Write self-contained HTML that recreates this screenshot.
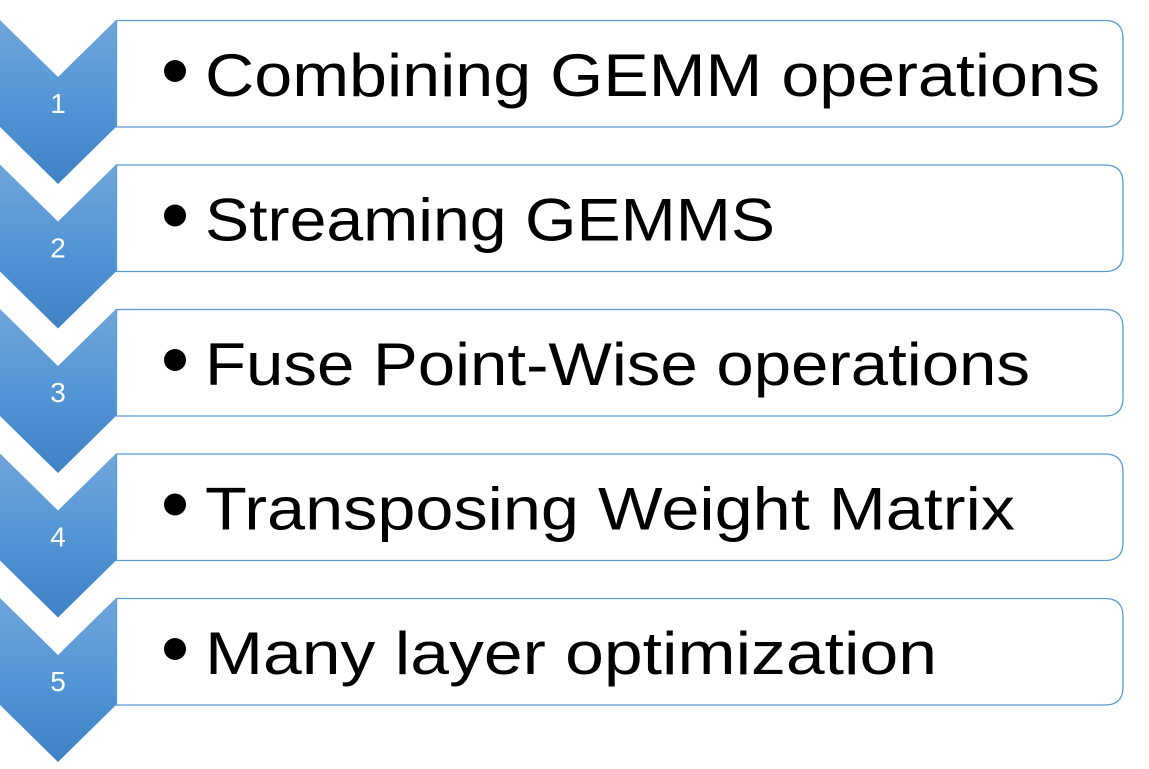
<!DOCTYPE html>
<html><head><meta charset="utf-8"><style>html,body{margin:0;padding:0;background:#fff}</style></head>
<body>
<svg width="1149" height="764" xmlns="http://www.w3.org/2000/svg">
<defs>
<linearGradient id="g" x1="0" y1="0" x2="0" y2="1">
<stop offset="0" stop-color="#6fa5da"/><stop offset="0.5" stop-color="#5396d6"/><stop offset="1" stop-color="#3f82c4"/>
</linearGradient>
</defs>
<g font-family="Liberation Sans, sans-serif">
<g transform="translate(0,0)">
<path d="M116.5,20.5 H1105 Q1123,20.5 1123,38.5 V109 Q1123,127 1105,127 H116.5 Z" fill="#fff" stroke="#5b9bd5" stroke-width="1.3"/>
<path d="M0,20 L58,77 L116,20 V127 L58,184 L0,127 Z" fill="url(#g)"/>
<text x="58" y="113" fill="#fff" font-size="28" text-anchor="middle">1</text>
<circle cx="175" cy="71" r="11"/>
<text x="205" y="96" font-size="60" textLength="895" lengthAdjust="spacingAndGlyphs">Combining GEMM operations</text>
</g>
<g transform="translate(0,144.5)">
<path d="M116.5,20.5 H1105 Q1123,20.5 1123,38.5 V109 Q1123,127 1105,127 H116.5 Z" fill="#fff" stroke="#5b9bd5" stroke-width="1.3"/>
<path d="M0,20 L58,77 L116,20 V127 L58,184 L0,127 Z" fill="url(#g)"/>
<text x="58" y="113" fill="#fff" font-size="28" text-anchor="middle">2</text>
<circle cx="175" cy="71" r="11"/>
<text x="205" y="96" font-size="60" textLength="570" lengthAdjust="spacingAndGlyphs">Streaming GEMMS</text>
</g>
<g transform="translate(0,289)">
<path d="M116.5,20.5 H1105 Q1123,20.5 1123,38.5 V109 Q1123,127 1105,127 H116.5 Z" fill="#fff" stroke="#5b9bd5" stroke-width="1.3"/>
<path d="M0,20 L58,77 L116,20 V127 L58,184 L0,127 Z" fill="url(#g)"/>
<text x="58" y="113" fill="#fff" font-size="28" text-anchor="middle">3</text>
<circle cx="175" cy="71" r="11"/>
<text x="205" y="96" font-size="60" textLength="825" lengthAdjust="spacingAndGlyphs">Fuse Point-Wise operations</text>
</g>
<g transform="translate(0,433.5)">
<path d="M116.5,20.5 H1105 Q1123,20.5 1123,38.5 V109 Q1123,127 1105,127 H116.5 Z" fill="#fff" stroke="#5b9bd5" stroke-width="1.3"/>
<path d="M0,20 L58,77 L116,20 V127 L58,184 L0,127 Z" fill="url(#g)"/>
<text x="58" y="113" fill="#fff" font-size="28" text-anchor="middle">4</text>
<circle cx="175" cy="71" r="11"/>
<text x="205" y="96" font-size="60" textLength="810" lengthAdjust="spacingAndGlyphs">Transposing Weight Matrix</text>
</g>
<g transform="translate(0,578)">
<path d="M116.5,20.5 H1105 Q1123,20.5 1123,38.5 V109 Q1123,127 1105,127 H116.5 Z" fill="#fff" stroke="#5b9bd5" stroke-width="1.3"/>
<path d="M0,20 L58,77 L116,20 V127 L58,184 L0,127 Z" fill="url(#g)"/>
<text x="58" y="113" fill="#fff" font-size="28" text-anchor="middle">5</text>
<circle cx="175" cy="71" r="11"/>
<text x="205" y="96" font-size="60" textLength="732" lengthAdjust="spacingAndGlyphs">Many layer optimization</text>
</g>
</g>
</svg>
</body></html>
